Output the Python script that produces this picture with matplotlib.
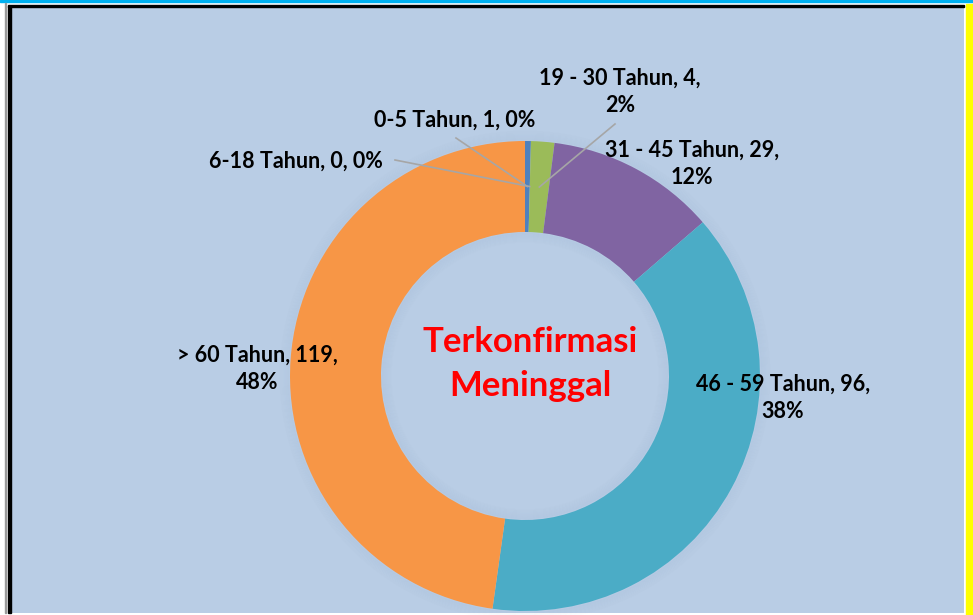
import matplotlib.pyplot as plt
from matplotlib.patches import Rectangle, Circle
import numpy as np

plt.rcParams['font.family'] = ['Lato', 'DejaVu Sans']

categories = ['0-5 Tahun', '6-18 Tahun', '19 - 30 Tahun', '31 - 45 Tahun', '46 - 59 Tahun', '> 60 Tahun']
values = [1, 0, 4, 29, 96, 119]
percents = ['0%', '0%', '2%', '12%', '38%', '48%']
colors = ['#4F81BD', '#C0504D', '#9BBB59', '#8064A2', '#4BACC6', '#F79646']

# label text and where it sits (pixels, y from top)
label_text = [
    '0-5 Tahun, 1, 0%',
    '6-18 Tahun, 0, 0%',
    '19 - 30 Tahun, 4,\n2%',
    '31 - 45 Tahun, 29,\n12%',
    '46 - 59 Tahun, 96,\n38%',
    '> 60 Tahun, 119,\n48%',
]
label_pos = [(455, 120), (296, 161), (620, 92), (692, 164), (783, 398), (257, 369)]
leader = [(456, 138), (395, 160), (615, 124), None, None, None]

W, H = 973, 615
fig = plt.figure(figsize=(W / 100, H / 100), dpi=100)
fig.patch.set_facecolor('white')
ax = fig.add_axes([0, 0, 1, 1])

cx, cy = 525, H - 376
R, width = 235, 91

ax.pie(values, colors=colors, startangle=90, counterclock=False,
       radius=R, center=(cx, cy), frame=True,
       wedgeprops=dict(width=width, edgecolor='none', zorder=2))
ax.set_xlim(0, W)
ax.set_ylim(0, H)
ax.set_aspect('equal')
ax.axis('off')

# frame pieces
ax.add_patch(Rectangle((0, H - 2), W, 2, color='#00B0F0', zorder=0))
ax.add_patch(Rectangle((8, H - 613), 956, 607, facecolor='#B9CDE5', edgecolor='none', zorder=0))
ax.add_patch(Rectangle((8, H - 7), 956, 2.5, color='black', zorder=1))
ax.add_patch(Rectangle((8, H - 613), 2.5, 607, color='black', zorder=1))
ax.add_patch(Rectangle((5, H - 613), 1, 610, color='#9A9A9A', zorder=1))
ax.add_patch(Rectangle((966, 0), 7, H - 4, color='#FFFF00', zorder=0))

# soft shadow around the ring, outside and inside the hole
for k in range(10):
    ax.add_patch(Circle((cx, cy), R + 1 + k, fill=False, lw=1.2,
                        edgecolor='#7F9CC4', alpha=0.05 * (10 - k) / 10, zorder=1))
    ax.add_patch(Circle((cx, cy), R - width - 1 - k, fill=False, lw=1.2,
                        edgecolor='#7F9CC4', alpha=0.06 * (10 - k) / 10, zorder=3))

total = sum(values)
cum = np.cumsum([0] + values[:-1])
rmid = R - width / 2
for i, txt in enumerate(label_text):
    lx, ly = label_pos[i]
    ax.text(lx, H - ly, txt, ha='center', va='center', fontsize=15.5, fontweight='bold',
            color='black', linespacing=1.4, zorder=5)
    if leader[i] is not None:
        ang = np.deg2rad(90 - 360 * (cum[i] + values[i] / 2) / total)
        px, py = cx + rmid * np.cos(ang), cy + rmid * np.sin(ang)
        sx, sy = leader[i]
        ax.plot([sx, px], [H - sy, py], color='#A6A6A6', lw=1.2, zorder=4)

ax.text(cx + 5, cy + 12, 'Terkonfirmasi\nMeninggal', ha='center', va='center',
        fontsize=25, fontweight='bold', color='#FF0000', linespacing=1.5, zorder=5)

fig.savefig('out.png', dpi=100)
